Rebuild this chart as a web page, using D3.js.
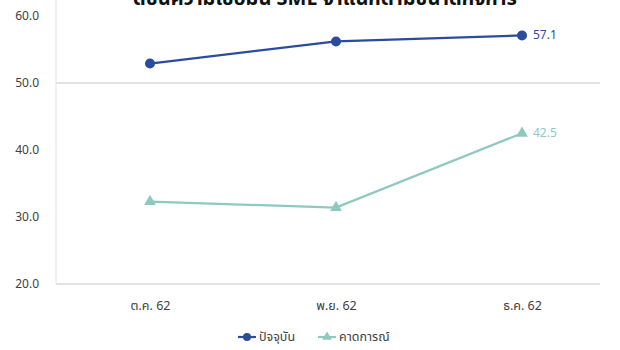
<!DOCTYPE html>
<html><head><meta charset="utf-8">
<script src="https://cdn.jsdelivr.net/npm/d3@7"></script>
<style>body{margin:0;background:#fff}svg{display:block}</style>
</head><body>
<script>
const categories = ["ต.ค. 62", "พ.ย. 62", "ธ.ค. 62"];
const currentValues = [52.9, 56.2, 57.1];
const forecastValues = [32.3, 31.4, 42.5];
const yTicks = [20, 30, 40, 50, 60];
const seriesNames = ["ปัจจุบัน", "คาดการณ์"];
const title = "ดัชนีความเชื่อมั่น SME จำแนกตามขนาดกิจการ";

const W = 620, H = 350;
const font = "'Noto Sans Thai','Noto Sans','DejaVu Sans',sans-serif";
const svg = d3.select("body").append("svg").attr("width", W).attr("height", H);

const x = d3.scalePoint().domain(categories).range([150, 522]);
const y = d3.scaleLinear().domain([20, 60]).range([284, 16]);
const left = 56, right = 600;

svg.append("text").attr("x", 325).attr("y", 5).attr("text-anchor", "middle")
  .attr("font-family", font).attr("font-weight", "bold").attr("font-size", 20).attr("fill", "#111").text(title);

// grid
svg.append("line").attr("x1", left).attr("x2", right).attr("y1", y(50)).attr("y2", y(50)).attr("stroke", "#d9d9d9").attr("stroke-width", 1.5);
svg.append("line").attr("x1", left).attr("x2", right).attr("y1", y(20)).attr("y2", y(20)).attr("stroke", "#d9d9d9").attr("stroke-width", 1.5);
svg.append("line").attr("x1", left).attr("x2", left).attr("y1", 0).attr("y2", y(20)).attr("stroke", "#e3e3e3").attr("stroke-width", 1);

const ya = svg.append("g").attr("transform", `translate(${left - 14},0)`)
  .call(d3.axisLeft(y).tickValues(yTicks).tickFormat(d3.format(".1f")).tickSize(0));
ya.select(".domain").remove();
ya.selectAll("text").attr("font-family", font).attr("font-size", 12).attr("fill", "#404040");

const xa = svg.append("g").attr("transform", `translate(0,${y(20) + 14})`)
  .call(d3.axisBottom(x).tickSize(0));
xa.select(".domain").remove();
xa.selectAll("text").attr("font-family", font).attr("font-size", 12.5).attr("fill", "#404040");

const blue = "#2b4c9e", teal = "#8ec9bf";
const line = d3.line().x((d, i) => x(categories[i])).y(d => y(d));

svg.append("path").datum(forecastValues).attr("d", line).attr("fill", "none").attr("stroke", teal).attr("stroke-width", 2.2);
svg.append("path").datum(currentValues).attr("d", line).attr("fill", "none").attr("stroke", blue).attr("stroke-width", 2.2);

const tri = d3.symbol().type(d3.symbolTriangle).size(60);
svg.selectAll(".tri").data(forecastValues).enter().append("path")
  .attr("d", tri).attr("transform", (d, i) => `translate(${x(categories[i])},${y(d)})`).attr("fill", teal);
svg.selectAll(".dot").data(currentValues).enter().append("circle")
  .attr("cx", (d, i) => x(categories[i])).attr("cy", d => y(d)).attr("r", 5).attr("fill", blue);

const li = categories.length - 1;
svg.append("text").attr("x", x(categories[li]) + 11).attr("y", y(currentValues[li]) + 4)
  .attr("font-family", font).attr("font-size", 12).attr("fill", blue).text(currentValues[li].toFixed(1));
svg.append("text").attr("x", x(categories[li]) + 11).attr("y", y(forecastValues[li]) + 4)
  .attr("font-family", font).attr("font-size", 12).attr("fill", teal).text(forecastValues[li].toFixed(1));

// legend
const lg = svg.append("g");
const ly = 337;
lg.append("line").attr("x1", 238).attr("x2", 256).attr("y1", ly).attr("y2", ly).attr("stroke", blue).attr("stroke-width", 2.2);
lg.append("circle").attr("cx", 247).attr("cy", ly).attr("r", 4).attr("fill", blue);
lg.append("text").attr("x", 259).attr("y", ly + 4).attr("font-family", font).attr("font-size", 12.5).attr("fill", "#404040").text(seriesNames[0]);
lg.append("line").attr("x1", 318).attr("x2", 336).attr("y1", ly).attr("y2", ly).attr("stroke", teal).attr("stroke-width", 2.2);
lg.append("path").attr("d", d3.symbol().type(d3.symbolTriangle).size(40)).attr("transform", `translate(327,${ly})`).attr("fill", teal);
lg.append("text").attr("x", 339).attr("y", ly + 4).attr("font-family", font).attr("font-size", 12.5).attr("fill", "#404040").text(seriesNames[1]);
</script>
</body></html>
